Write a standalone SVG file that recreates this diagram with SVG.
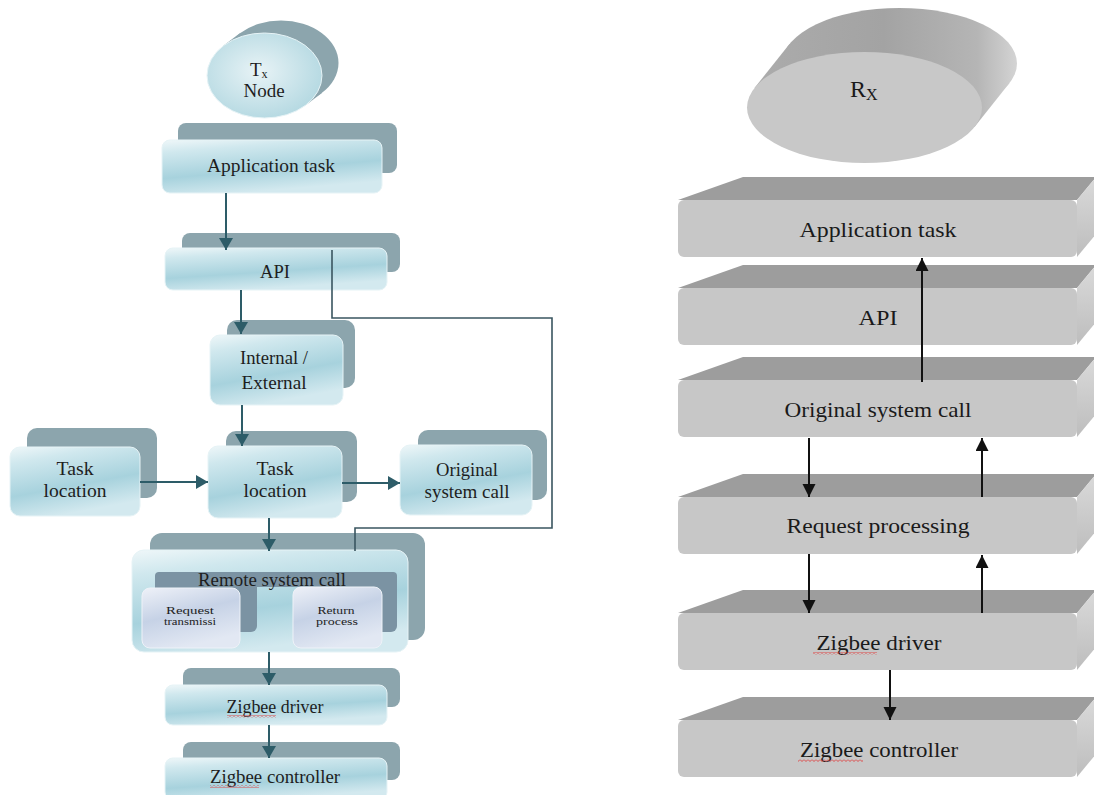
<svg xmlns="http://www.w3.org/2000/svg" width="1094" height="795" viewBox="0 0 1094 795">
<style>
.lt{font-family:"Liberation Serif","Times New Roman",serif;font-size:19px;fill:#1e1e1e;text-anchor:middle}
.st{font-family:"Liberation Serif","Times New Roman",serif;font-size:11px;fill:#1e1e1e;text-anchor:middle}
.rt{font-family:"Liberation Serif","Times New Roman",serif;font-size:21px;fill:#1a1a1a;text-anchor:middle}
.bk{fill:#8ca5ad}
.fr{fill:url(#gF);stroke:#e6f3f6;stroke-width:1}
.ib{fill:#7b93a3}
.if{fill:url(#gI);stroke:#eef2f8;stroke-width:1}
.tp{fill:#9d9d9d}
.ff{fill:#c7c7c7}
.sd{fill:url(#gS)}
.cl{stroke:#2d5c68;stroke-width:2;fill:none}
.cp{stroke:#3a5560;stroke-width:1.6;fill:none}
.ca{stroke:#111;stroke-width:2;fill:none}
.wv{fill:url(#wave)}
</style>
<defs>
<linearGradient id="gF" x1="0" y1="0" x2="0.35" y2="1">
<stop offset="0" stop-color="#eff7f9"/>
<stop offset="0.22" stop-color="#d0e8ee"/>
<stop offset="0.65" stop-color="#a7d2dd"/>
<stop offset="1" stop-color="#d3e9ef"/>
</linearGradient>
<linearGradient id="gI" x1="0" y1="0" x2="0.4" y2="1">
<stop offset="0" stop-color="#eef1f8"/>
<stop offset="0.5" stop-color="#c6d2e6"/>
<stop offset="1" stop-color="#e2e8f3"/>
</linearGradient>
<linearGradient id="gS" x1="0" y1="0" x2="0" y2="1">
<stop offset="0" stop-color="#dadada"/>
<stop offset="1" stop-color="#bdbdbd"/>
</linearGradient>
<linearGradient id="gR" gradientUnits="userSpaceOnUse" x1="750" y1="0" x2="1017" y2="0">
<stop offset="0" stop-color="#acacac"/>
<stop offset="0.5" stop-color="#a3a3a3"/>
<stop offset="0.85" stop-color="#b5b5b5"/>
<stop offset="1" stop-color="#d4d4d4"/>
</linearGradient>
<radialGradient id="gT" cx="0.45" cy="0.45" r="0.6">
<stop offset="0" stop-color="#e8f3f6"/>
<stop offset="1" stop-color="#b3d8e1"/>
</radialGradient>
<pattern id="wave" width="4" height="3" patternUnits="userSpaceOnUse">
<path d="M0 0.5 L2 2.5 L4 0.5" stroke="#e03a3a" stroke-width="0.9" fill="none"/>
</pattern>
<marker id="ah" markerWidth="14" markerHeight="14" refX="12" refY="7" orient="auto" markerUnits="userSpaceOnUse">
<path d="M0,0 L12,7 L0,14 z" fill="#2d5c68"/>
</marker>
<marker id="ak" markerWidth="14" markerHeight="14" refX="13" refY="6.5" orient="auto" markerUnits="userSpaceOnUse">
<path d="M0,0 L13,6.5 L0,13 z" fill="#111"/>
</marker>
<g id="slab">
<path class="tp" d="M0 0 L65 -23 L418 -23 L399 0 Z"/>
<path class="sd" d="M399 0 L418 -23 L418 34 L399 57 Z"/>
<rect class="ff" x="0" y="0" width="399" height="57" rx="6"/>
</g>
</defs>
<rect width="1094" height="795" fill="#ffffff"/>

<!-- LEFT: Tx side -->
<g id="tx-node">
<path class="bk" d="M305.7 105.2 L223.3 45.8 L239.8 33.3 L322.2 92.7 Z"/>
<ellipse class="bk" cx="281" cy="63" rx="57.5" ry="42.5"/>
<ellipse cx="264.5" cy="75.5" rx="57.5" ry="42.5" fill="url(#gT)" stroke="#e6f3f6" stroke-width="1"/>
<text class="lt" x="250" y="76" style="text-anchor:start;font-size:19px">T<tspan dy="2" style="font-size:12px">x</tspan></text>
<text class="lt" x="264" y="97" style="font-size:19px">Node</text>
</g>

<g id="l-app">
<rect class="bk" x="178" y="123" width="219" height="50" rx="8"/>
<rect class="fr" x="162" y="140" width="220" height="53" rx="8"/>
<text class="lt" x="271" y="172" textLength="128" lengthAdjust="spacingAndGlyphs">Application task</text>
</g>

<g id="l-api">
<rect class="bk" x="182" y="233" width="218" height="39" rx="8"/>
<rect class="fr" x="165" y="248" width="222" height="42" rx="8"/>
<text class="lt" x="275" y="278" textLength="30" lengthAdjust="spacingAndGlyphs">API</text>
</g>

<g id="l-intext">
<rect class="bk" x="227" y="320" width="128" height="68" rx="10"/>
<rect class="fr" x="210" y="335" width="133" height="70" rx="10"/>
<text class="lt" x="274" y="364" textLength="68" lengthAdjust="spacingAndGlyphs">Internal /</text>
<text class="lt" x="274" y="389" textLength="65" lengthAdjust="spacingAndGlyphs">External</text>
</g>

<g id="l-task-left">
<rect class="bk" x="27" y="428" width="130" height="70" rx="10"/>
<rect class="fr" x="10" y="447" width="130" height="69" rx="10"/>
<text class="lt" x="75" y="475" textLength="37" lengthAdjust="spacingAndGlyphs">Task</text>
<text class="lt" x="75" y="497" textLength="63" lengthAdjust="spacingAndGlyphs">location</text>
</g>

<g id="l-task-mid">
<rect class="bk" x="226" y="431" width="131" height="71" rx="10"/>
<rect class="fr" x="208" y="446" width="134" height="72" rx="10"/>
<text class="lt" x="275" y="475" textLength="37" lengthAdjust="spacingAndGlyphs">Task</text>
<text class="lt" x="275" y="497" textLength="63" lengthAdjust="spacingAndGlyphs">location</text>
</g>

<g id="l-orig">
<rect class="bk" x="418" y="430" width="129" height="70" rx="10"/>
<rect class="fr" x="400" y="445" width="132" height="70" rx="10"/>
<text class="lt" x="467" y="476" textLength="62" lengthAdjust="spacingAndGlyphs">Original</text>
<text class="lt" x="467" y="498" textLength="85" lengthAdjust="spacingAndGlyphs">system call</text>
</g>

<g id="l-remote">
<rect class="bk" x="150" y="533" width="275" height="107" rx="12"/>
<rect class="fr" x="132" y="550" width="276" height="102" rx="12"/>
<rect class="ib" x="155" y="572" width="242" height="15" rx="4"/>
<rect class="ib" x="155" y="572" width="102" height="60" rx="6"/>
<rect class="ib" x="307" y="572" width="90" height="60" rx="6"/>
<text class="lt" x="272" y="586" textLength="148" lengthAdjust="spacingAndGlyphs">Remote system call</text>
<g id="l-request">
<rect class="if" x="142" y="588" width="98" height="60" rx="8"/>
<text class="st" x="190" y="614" textLength="48" lengthAdjust="spacingAndGlyphs">Request</text>
<text class="st" x="190" y="625" textLength="52" lengthAdjust="spacingAndGlyphs">transmissi</text>
</g>
<g id="l-return">
<rect class="if" x="293" y="587" width="89" height="61" rx="8"/>
<text class="st" x="336" y="614" textLength="37" lengthAdjust="spacingAndGlyphs">Return</text>
<text class="st" x="337" y="625" textLength="42" lengthAdjust="spacingAndGlyphs">process</text>
</g>
</g>

<g id="l-zdriver">
<rect class="bk" x="183" y="668" width="217" height="39" rx="8"/>
<rect class="fr" x="165" y="685" width="222" height="40" rx="8"/>
<text class="lt" x="275" y="713" textLength="97" lengthAdjust="spacingAndGlyphs">Zigbee driver</text>
<rect class="wv" x="227" y="715" width="49" height="3"/>
</g>

<g id="l-zctrl">
<rect class="bk" x="183" y="742" width="217" height="38" rx="8"/>
<rect class="fr" x="165" y="758" width="222" height="42" rx="8"/>
<text class="lt" x="275" y="783" textLength="130" lengthAdjust="spacingAndGlyphs">Zigbee controller</text>
<rect class="wv" x="210" y="785" width="49" height="3"/>
</g>

<!-- RIGHT: Rx side -->
<g id="rx-node">
<path d="M974.5 127 L754.5 88 L789.5 44 L1009.5 83 Z" fill="url(#gR)"/>
<ellipse cx="899.5" cy="63.5" rx="117.5" ry="55.5" fill="url(#gR)"/>
<ellipse cx="864.5" cy="107.5" rx="117.5" ry="55.5" fill="#c8c8c8"/>
<text class="rt" x="850" y="97" style="text-anchor:start;font-size:24px">R<tspan dy="3" style="font-size:16px">X</tspan></text>
</g>

<g id="r-app">
<use href="#slab" x="678" y="200"/>
<text class="rt" x="878" y="237" textLength="157" lengthAdjust="spacingAndGlyphs">Application task</text>
</g>
<g id="r-api">
<use href="#slab" x="678" y="288"/>
<text class="rt" x="878" y="325" textLength="39" lengthAdjust="spacingAndGlyphs">API</text>
</g>
<g id="r-orig">
<use href="#slab" x="678" y="380"/>
<text class="rt" x="878" y="417" textLength="187" lengthAdjust="spacingAndGlyphs">Original system call</text>
</g>
<g id="r-req">
<use href="#slab" x="678" y="497"/>
<text class="rt" x="878" y="533" textLength="183" lengthAdjust="spacingAndGlyphs">Request processing</text>
</g>
<g id="r-zdriver">
<use href="#slab" x="678" y="613"/>
<text class="rt" x="879" y="650" textLength="125" lengthAdjust="spacingAndGlyphs">Zigbee driver</text>
<rect class="wv" x="813" y="652" width="64" height="3"/>
</g>
<g id="r-zctrl">
<use href="#slab" x="678" y="720"/>
<text class="rt" x="879" y="757" textLength="158" lengthAdjust="spacingAndGlyphs">Zigbee controller</text>
<rect class="wv" x="798" y="759" width="65" height="3"/>
</g>

<!-- connectors -->
<g id="connectors">
<path class="cl" d="M226 193 V250" marker-end="url(#ah)"/>
<path class="cl" d="M241 290 V334" marker-end="url(#ah)"/>
<path class="cl" d="M242 405 V446" marker-end="url(#ah)"/>
<path class="cl" d="M140 482 H208" marker-end="url(#ah)"/>
<path class="cl" d="M342 483 H400" marker-end="url(#ah)"/>
<path class="cl" d="M269 518 V551" marker-end="url(#ah)"/>
<path class="cl" d="M269 652 V685" marker-end="url(#ah)"/>
<path class="cl" d="M269 725 V758" marker-end="url(#ah)"/>
<path class="cp" d="M332 250 V318 H552 V528 H355 V551"/>
<path class="ca" d="M922 382 V258" marker-end="url(#ak)"/>
<path class="ca" d="M809 438 V497" marker-end="url(#ak)"/>
<path class="ca" d="M982 497 V438" marker-end="url(#ak)"/>
<path class="ca" d="M809 554 V613" marker-end="url(#ak)"/>
<path class="ca" d="M982 613 V555" marker-end="url(#ak)"/>
<path class="ca" d="M890 670 V720" marker-end="url(#ak)"/>
</g>
</svg>
